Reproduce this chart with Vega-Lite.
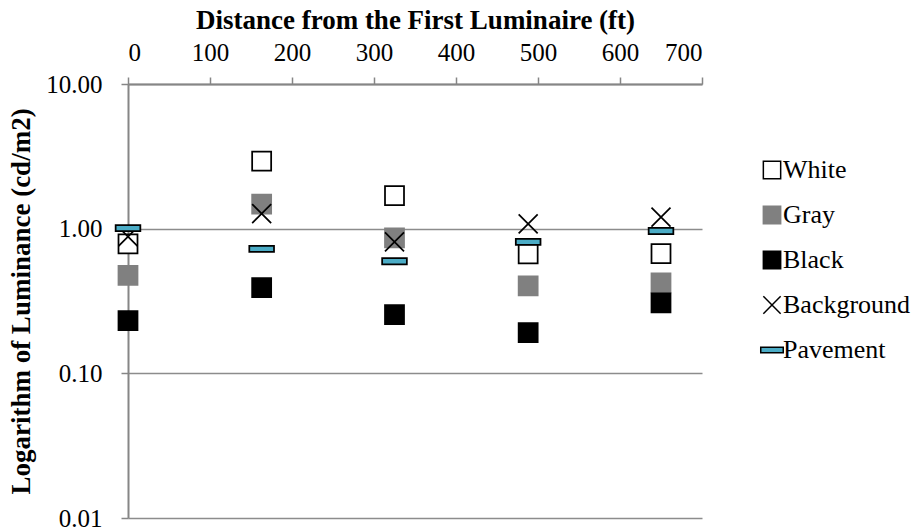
{
  "$schema": "https://vega.github.io/schema/vega-lite/v6.json",
  "autosize": "none",
  "width": 574,
  "height": 434,
  "padding": {"left": 128, "top": 84, "right": 213, "bottom": 13},
  "background": "white",
  "data": {
    "values": [
      {"distance": 0, "luminance": 0.784, "series": "White"},
      {"distance": 163, "luminance": 2.93, "series": "White"},
      {"distance": 325, "luminance": 1.69, "series": "White"},
      {"distance": 488, "luminance": 0.669, "series": "White"},
      {"distance": 650, "luminance": 0.673, "series": "White"},
      {"distance": 0, "luminance": 0.476, "series": "Gray"},
      {"distance": 163, "luminance": 1.48, "series": "Gray"},
      {"distance": 325, "luminance": 0.863, "series": "Gray"},
      {"distance": 488, "luminance": 0.402, "series": "Gray"},
      {"distance": 650, "luminance": 0.422, "series": "Gray"},
      {"distance": 0, "luminance": 0.231, "series": "Black"},
      {"distance": 163, "luminance": 0.392, "series": "Black"},
      {"distance": 325, "luminance": 0.255, "series": "Black"},
      {"distance": 488, "luminance": 0.191, "series": "Black"},
      {"distance": 650, "luminance": 0.307, "series": "Black"},
      {"distance": 0, "luminance": 0.88, "series": "Background"},
      {"distance": 163, "luminance": 1.27, "series": "Background"},
      {"distance": 325, "luminance": 0.81, "series": "Background"},
      {"distance": 488, "luminance": 1.08, "series": "Background"},
      {"distance": 650, "luminance": 1.2, "series": "Background"},
      {"distance": 0, "luminance": 1.01, "series": "Pavement"},
      {"distance": 163, "luminance": 0.724, "series": "Pavement"},
      {"distance": 325, "luminance": 0.595, "series": "Pavement"},
      {"distance": 488, "luminance": 0.81, "series": "Pavement"},
      {"distance": 650, "luminance": 0.964, "series": "Pavement"}
    ]
  },
  "mark": {"type": "point", "filled": true, "size": 361, "strokeWidth": 1.75, "opacity": 1},
  "encoding": {
    "x": {
      "field": "distance", "type": "quantitative",
      "scale": {"domain": [0, 700], "nice": false},
      "axis": {
        "orient": "top", "values": [0, 100, 200, 300, 400, 500, 600, 700],
        "grid": false, "title": "Distance from the First Luminaire (ft)",
        "titlePadding": 6, "labelFontSize": 25
      }
    },
    "y": {
      "field": "luminance", "type": "quantitative",
      "scale": {"type": "log", "domain": [0.01, 10], "nice": false},
      "axis": {
        "values": [0.01, 0.1, 1, 10], "format": ".2f", "grid": true,
        "title": "Logarithm of Luminance (cd/m2)", "titlePadding": 10,
        "labelFontSize": 25, "labelPadding": 19, "labelOverlap": false, "labelFlush": false
      }
    },
    "shape": {
      "field": "series", "type": "nominal",
      "scale": {
        "domain": ["White", "Gray", "Black", "Background", "Pavement"],
        "range": ["square", "square", "square", "M-1,-1L1,1M1,-1L-1,1", "M-1.3,-0.32H1.3V0.32H-1.3Z"]
      }
    },
    "fill": {
      "field": "series", "type": "nominal",
      "scale": {
        "domain": ["White", "Gray", "Black", "Background", "Pavement"],
        "range": ["#ffffff", "#808080", "#000000", "transparent", "#4BACC6"]
      }
    },
    "stroke": {
      "field": "series", "type": "nominal",
      "scale": {
        "domain": ["White", "Gray", "Black", "Background", "Pavement"],
        "range": ["#000000", "#808080", "#000000", "#000000", "#000000"]
      }
    }
  },
  "config": {
    "view": {"stroke": null},
    "font": "Liberation Serif",
    "axis": {
      "labelFont": "Liberation Serif", "labelColor": "#000000",
      "titleFont": "Liberation Serif", "titleFontSize": 27, "titleFontWeight": "bold", "titleColor": "#000000",
      "domainColor": "#868686", "domainWidth": 2, "tickColor": "#868686", "tickWidth": 1.5, "tickSize": 7,
      "gridColor": "#8c8c8c", "gridWidth": 1.5
    },
    "axisX": {"labelPadding": 12},
    "legend": {
      "orient": "none", "legendX": 631, "legendY": 73, "title": null,
      "labelFont": "Liberation Serif", "labelFontSize": 26, "labelColor": "#000000",
      "symbolSize": 300, "symbolStrokeWidth": 1.5, "rowPadding": 19, "labelOffset": -2, "padding": 0
    }
  }
}
